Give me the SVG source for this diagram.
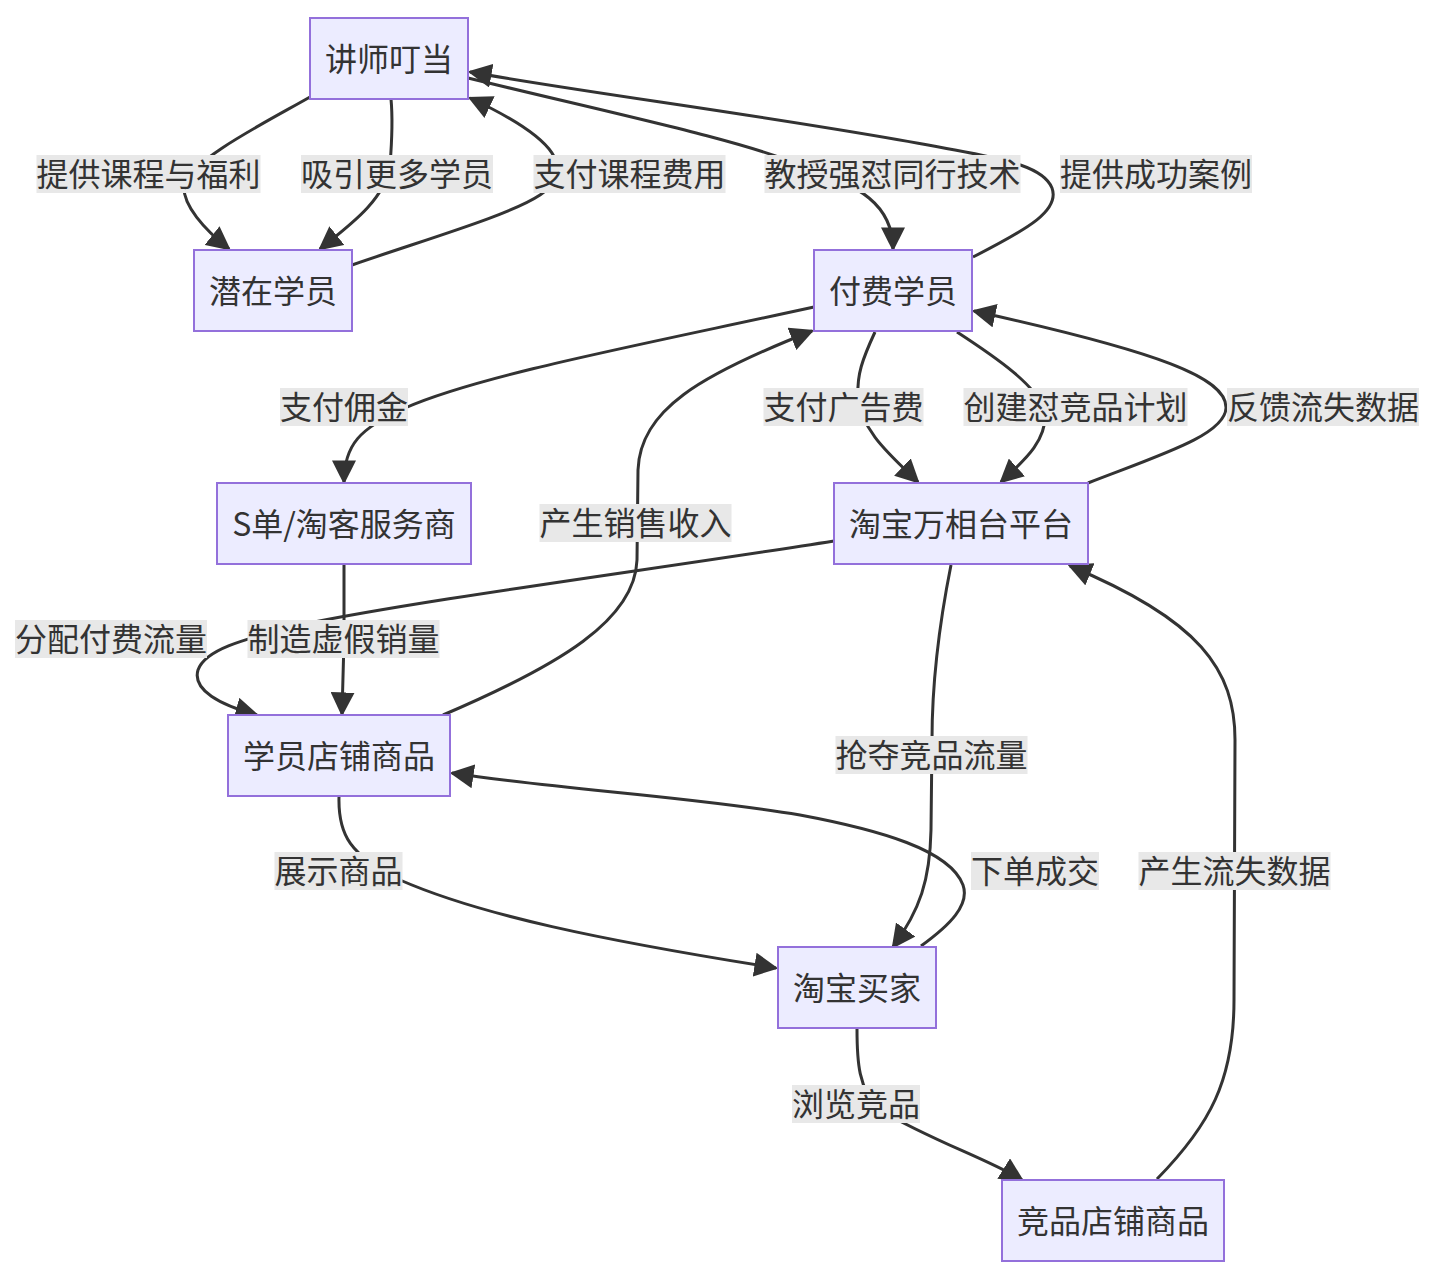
<svg xmlns="http://www.w3.org/2000/svg" width="1436" height="1278" viewBox="0 0 1436 1278">
<style>
.node rect{fill:#ECECFF;stroke:#9370DB;stroke-width:2}
text{font-family:"Noto Sans CJK SC","Noto Sans",sans-serif;font-size:32px;fill:#333;text-anchor:middle;dominant-baseline:central;transform:translateY(-2px)}
.edge{fill:none;stroke:#333;stroke-width:3}
.lbl rect{fill:#e8e8e8}
</style>
<defs>
<marker id="arr" viewBox="0 0 10 10" refX="9" refY="5" markerWidth="24" markerHeight="24" markerUnits="userSpaceOnUse" orient="auto">
<path d="M0,0 L10,5 L0,10 z" fill="#333"/>
</marker>
</defs>
<rect width="1436" height="1278" fill="#fff"/>
<g id="connectors">
<path class="edge" marker-end="url(#arr)" d="M310,97 C270,120 190,160 184,185 C182,205 205,230 229,249"/>
<path class="edge" marker-end="url(#arr)" d="M391,99 C393,120 392,140 390,165 C385,200 350,225 320,249"/>
<path class="edge" marker-end="url(#arr)" d="M352,265 C430,238 510,215 540,195 C575,170 560,140 470,98"/>
<path class="edge" marker-end="url(#arr)" d="M468,78 C620,115 740,140 800,165 C860,185 893,205 893,249"/>
<path class="edge" marker-end="url(#arr)" d="M973,257 C1030,228 1060,210 1052,188 C1044,168 1010,160 955,150 C800,120 600,95 470,72"/>
<path class="edge" marker-end="url(#arr)" d="M814,307 C640,345 480,375 405,408 C360,428 344,445 344,482"/>
<path class="edge" marker-end="url(#arr)" d="M875,332 C862,360 857,375 858,395 C860,430 890,455 918,482"/>
<path class="edge" marker-end="url(#arr)" d="M957,332 C1000,360 1035,385 1045,410 C1048,440 1025,460 1001,482"/>
<path class="edge" marker-end="url(#arr)" d="M1088,483 C1160,455 1225,435 1226,408 C1227,378 1160,352 974,311"/>
<path class="edge" marker-end="url(#arr)" d="M443,715 C560,665 635,620 637,560 L638,470 C640,410 700,375 812,331"/>
<path class="edge" marker-end="url(#arr)" d="M344,564 L344,640 L342,714"/>
<path class="edge" marker-end="url(#arr)" d="M834,541 C650,570 420,600 300,625 C240,640 205,650 198,670 C192,690 220,705 257,715"/>
<path class="edge" marker-end="url(#arr)" d="M951,565 C940,620 932,680 932,740 L931,830 C930,880 920,910 893,947"/>
<path class="edge" marker-end="url(#arr)" d="M921,946 C950,925 970,905 963,885 C950,850 880,830 800,815 C680,795 560,790 452,773"/>
<path class="edge" marker-end="url(#arr)" d="M339,797 C338,835 350,855 400,880 C480,915 600,940 776,968"/>
<path class="edge" marker-end="url(#arr)" d="M857,1029 C857,1060 858,1090 880,1110 C930,1140 990,1160 1022,1180"/>
<path class="edge" marker-end="url(#arr)" d="M1157,1179 C1210,1125 1234,1080 1234,1000 L1235,740 C1235,670 1200,620 1070,566"/>
<g class="lbl">
<rect x="36.5" y="155" width="224" height="38"/><text x="148.5" y="174">提供课程与福利</text>
<rect x="301" y="155" width="192" height="38"/><text x="397" y="174">吸引更多学员</text>
<rect x="533.5" y="155" width="192" height="38"/><text x="629.5" y="174">支付课程费用</text>
<rect x="764.5" y="155" width="256" height="38"/><text x="892.5" y="174">教授强怼同行技术</text>
<rect x="1060" y="155" width="192" height="38"/><text x="1156" y="174">提供成功案例</text>
<rect x="280" y="388" width="128" height="38"/><text x="344" y="407">支付佣金</text>
<rect x="763.5" y="388" width="160" height="38"/><text x="843.5" y="407">支付广告费</text>
<rect x="963.5" y="388" width="224" height="38"/><text x="1075.5" y="407">创建怼竞品计划</text>
<rect x="1227" y="388" width="192" height="38"/><text x="1323" y="407">反馈流失数据</text>
<rect x="539.5" y="504" width="192" height="38"/><text x="635.5" y="523">产生销售收入</text>
<rect x="15" y="620" width="192" height="38"/><text x="111" y="639">分配付费流量</text>
<rect x="247.5" y="620" width="192" height="38"/><text x="343.5" y="639">制造虚假销量</text>
<rect x="835.5" y="736" width="192" height="38"/><text x="931.5" y="755">抢夺竞品流量</text>
<rect x="274.5" y="852" width="128" height="38"/><text x="338.5" y="871">展示商品</text>
<rect x="971" y="852" width="128" height="38"/><text x="1035" y="871">下单成交</text>
<rect x="1138.5" y="852" width="192" height="38"/><text x="1234.5" y="871">产生流失数据</text>
<rect x="792" y="1085" width="128" height="38"/><text x="856" y="1104">浏览竞品</text>
</g>
</g>
<g id="n-teacher" class="node"><rect x="310" y="18" width="158" height="81"/><text x="389" y="58.5">讲师叮当</text></g>
<g id="n-potential" class="node"><rect x="194" y="250" width="158" height="81"/><text x="273" y="290.5">潜在学员</text></g>
<g id="n-paid" class="node"><rect x="814" y="250" width="158" height="81"/><text x="893" y="290.5">付费学员</text></g>
<g id="n-sdan" class="node"><rect x="217" y="483" width="254" height="81"/><text x="344" y="523.5">S单/淘客服务商</text></g>
<g id="n-platform" class="node"><rect x="834" y="483" width="254" height="81"/><text x="961" y="523.5">淘宝万相台平台</text></g>
<g id="n-studentshop" class="node"><rect x="228" y="715" width="222" height="81"/><text x="339" y="755.5">学员店铺商品</text></g>
<g id="n-buyer" class="node"><rect x="778" y="947" width="158" height="81"/><text x="857" y="987.5">淘宝买家</text></g>
<g id="n-compshop" class="node"><rect x="1002" y="1180" width="222" height="81"/><text x="1113" y="1220.5">竞品店铺商品</text></g>
</svg>
